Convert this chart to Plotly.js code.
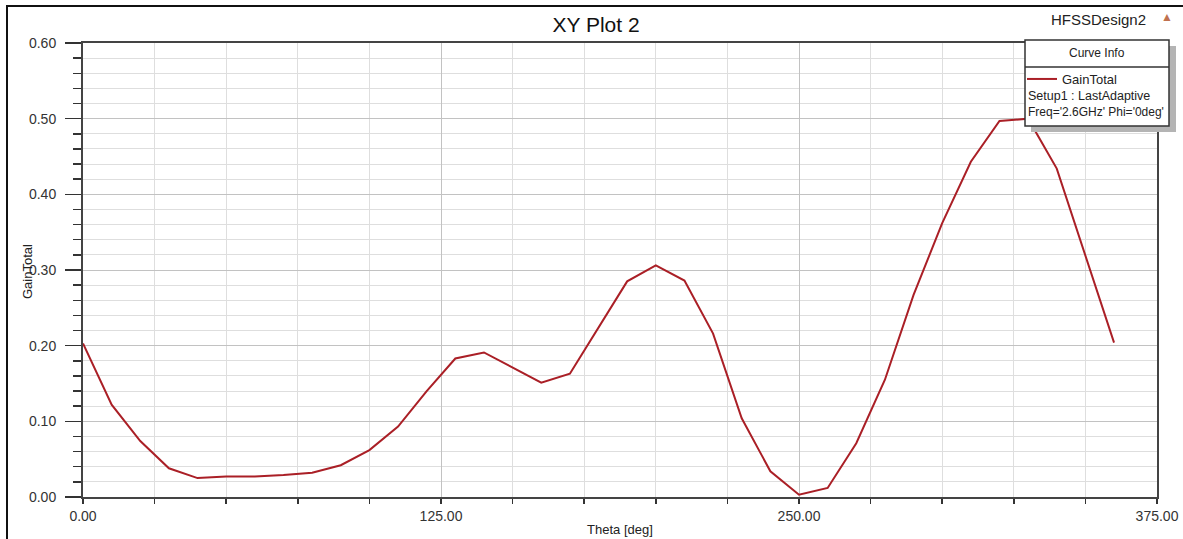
<!DOCTYPE html>
<html>
<head>
<meta charset="utf-8">
<script src="https://cdn.plot.ly/plotly-3.0.1.min.js"></script>
<style>html,body{margin:0;padding:0;background:#fff;}#chart{width:1183px;height:539px;}</style>
</head>
<body>
<div id="chart"></div>
<script>
// Data (Theta in deg, GainTotal)
const theta = [0,10,20,30,40,50,60,70,80,90,100,110,120,130,140,150,160,170,180,190,200,210,220,230,240,250,260,270,280,290,300,310,320,330,340,350,360];
const gainTotal = [0.203,0.122,0.074,0.038,0.025,0.027,0.027,0.029,0.032,0.042,0.062,0.093,0.140,0.183,0.191,0.171,0.151,0.163,0.224,0.285,0.306,0.286,0.216,0.104,0.034,0.003,0.012,0.071,0.155,0.267,0.362,0.443,0.497,0.500,0.434,0.318,0.204];
const xTickVals = [0,125,250,375];
const xTickText = ['0.00','125.00','250.00','375.00'];
const yTickVals = [0,0.1,0.2,0.3,0.4,0.5,0.6];
const yTickText = ['0.00','0.10','0.20','0.30','0.40','0.50','0.60'];
const seriesName = 'GainTotal';
const legendLines = ['Setup1 : LastAdaptive', "Freq='2.6GHz' Phi='0deg'"];

const W = 1183, H = 539;
const L = 83, R = 26, T = 43, B = 42;
const pw = W - L - R, ph = H - T - B;
const px = v => (v - L) / pw;          // pixel x -> paper x
const py = v => (H - B - v) / ph;      // pixel y -> paper y

const FONT = 'Liberation Sans, Arial, sans-serif';

const trace = {
  x: theta, y: gainTotal, type: 'scatter', mode: 'lines', name: seriesName,
  line: {color: '#aa1f26', width: 2}, showlegend: true
};

const layout = {
  width: W, height: H,
  margin: {l: L, r: R, t: T, b: B, pad: 0},
  paper_bgcolor: '#ffffff', plot_bgcolor: '#ffffff',
  font: {family: FONT, color: '#222'},
  title: {text: 'XY Plot 2', x: 596 / W, xanchor: 'center', y: 1 - 25 / H, yanchor: 'middle',
          font: {family: FONT, size: 21, color: '#111'}},
  xaxis: {
    range: [0, 375], tickmode: 'array', tickvals: xTickVals, ticktext: xTickText,
    ticks: 'outside', ticklen: 5, tickwidth: 1.5, tickcolor: '#333',
    showline: true, linecolor: '#444', linewidth: 2, mirror: true,
    showgrid: true, gridcolor: '#c2c2c2', gridwidth: 1, zeroline: false,
    minor: {dtick: 25, tick0: 0, ticks: 'outside', ticklen: 5, tickcolor: '#333', showgrid: true, gridcolor: '#dedede'},
    tickfont: {family: FONT, size: 14, color: '#333'},
    title: {text: 'Theta [deg]', font: {family: FONT, size: 13, color: '#222'}, standoff: 2},
    fixedrange: true
  },
  yaxis: {
    range: [0, 0.6], tickmode: 'array', tickvals: yTickVals, ticktext: yTickText,
    ticks: 'outside', ticklen: 16, tickwidth: 1.5, tickcolor: '#333',
    showline: true, linecolor: '#444', linewidth: 2, mirror: true,
    showgrid: true, gridcolor: '#c2c2c2', gridwidth: 1, zeroline: false,
    minor: {dtick: 0.02, tick0: 0, ticks: 'outside', ticklen: 8, tickcolor: '#333', showgrid: true, gridcolor: '#dedede'},
    tickfont: {family: FONT, size: 14, color: '#333'},
    ticklabelstandoff: 6,
    fixedrange: true
  },
  showlegend: true,
  legend: {
    x: px(1022), y: py(64), xanchor: 'left', yanchor: 'top',
    bgcolor: 'rgba(0,0,0,0)', borderwidth: 0,
    font: {family: FONT, size: 13, color: '#222'},
    itemclick: false, itemdoubleclick: false, tracegroupgap: 0
  },
  shapes: [
    // outer frame
    {type: 'rect', xref: 'paper', yref: 'paper', x0: px(7), x1: px(1300), y0: py(700), y1: py(6),
     line: {color: '#111', width: 2}, fillcolor: 'rgba(0,0,0,0)', layer: 'above'},
    // legend shadow
    {type: 'rect', xref: 'paper', yref: 'paper', x0: px(1031), x1: px(1176), y0: py(132), y1: py(46),
     line: {width: 0}, fillcolor: '#b4b4b4', layer: 'above'},
    // legend box
    {type: 'rect', xref: 'paper', yref: 'paper', x0: px(1025), x1: px(1169), y0: py(126), y1: py(40),
     line: {color: '#333', width: 1.5}, fillcolor: '#ffffff', layer: 'above'},
    // header separator
    {type: 'line', xref: 'paper', yref: 'paper', x0: px(1025), x1: px(1169), y0: py(67), y1: py(67),
     line: {color: '#333', width: 1.5}, layer: 'above'}
  ],
  annotations: [
    // y-axis title
    {text: 'GainTotal', xref: 'paper', yref: 'paper', x: px(27), y: py(272), xanchor: 'center', yanchor: 'middle',
     textangle: -90, showarrow: false, font: {family: FONT, size: 13, color: '#222'}},
    {text: 'Curve Info', xref: 'paper', yref: 'paper', x: px(1097), y: py(53), xanchor: 'center', yanchor: 'middle',
     showarrow: false, font: {family: FONT, size: 12, color: '#222'}},
    {text: legendLines[0], xref: 'paper', yref: 'paper', x: px(1026), y: py(96), xanchor: 'left', yanchor: 'middle',
     showarrow: false, font: {family: FONT, size: 12.5, color: '#222'}},
    {text: legendLines[1], xref: 'paper', yref: 'paper', x: px(1026), y: py(112), xanchor: 'left', yanchor: 'middle',
     showarrow: false, font: {family: FONT, size: 12, color: '#222'}},
    {text: 'HFSSDesign2', xref: 'paper', yref: 'paper', x: px(1098), y: py(20), xanchor: 'center', yanchor: 'middle',
     showarrow: false, font: {family: FONT, size: 15, color: '#222'}},
    {text: '▲', xref: 'paper', yref: 'paper', x: px(1167), y: py(17), xanchor: 'center', yanchor: 'middle',
     showarrow: false, font: {family: FONT, size: 12, color: '#c0714f'}}
  ]
};

Plotly.newPlot('chart', [trace], layout, {displayModeBar: false, staticPlot: true});
</script>
</body>
</html>
